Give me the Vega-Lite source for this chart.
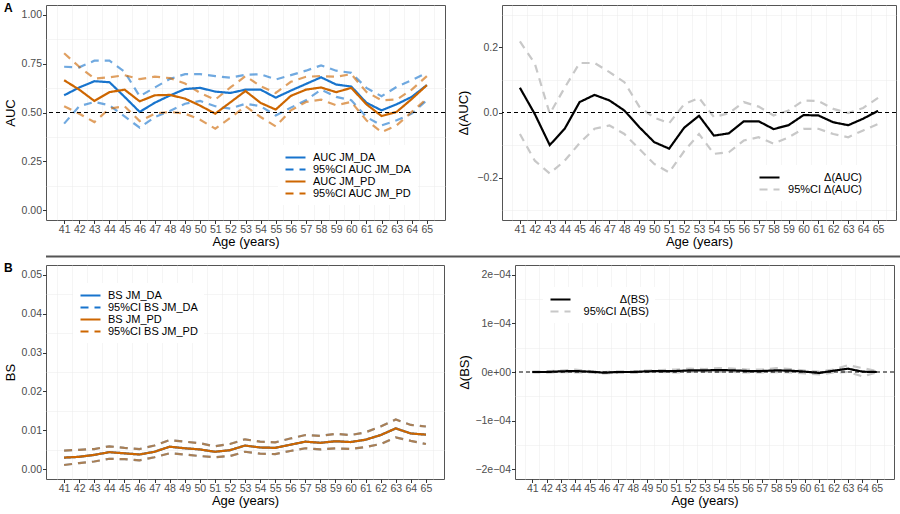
{
"$schema": "https://vega.github.io/schema/vega-lite/v6.json",
"padding": {"left": 4, "top": 1, "right": 0, "bottom": 0},
"config": {
  "font": "Liberation Sans",
  "view": {"stroke": "#555555", "strokeWidth": 1},
  "axis": {"labelFont": "Liberation Sans", "labelFontSize": 10.5, "labelColor": "#4D4D4D", "titleFont": "Liberation Sans", "titleFontSize": 13, "titleFontWeight": "normal", "titleColor": "#000000", "tickColor": "#333333", "tickSize": 3.5, "tickWidth": 1, "labelPadding": 1, "domain": false, "gridColor": "#EBEBEB", "gridWidth": 1},
  "axisX": {"titlePadding": 0},
  "axisY": {"titlePadding": 3.5},
  "legend": {"labelFont": "Liberation Sans", "labelFontSize": 11, "labelColor": "#000000", "fillColor": "white", "padding": 6, "rowPadding": 0, "symbolType": "M-1,0H3", "symbolSize": 100, "symbolStrokeWidth": 2.2, "symbolOpacity": 1, "labelOffset": 16, "orient": "none"}
},
"resolve": {"scale": {"color": "independent", "strokeDash": "independent"}, "legend": {"color": "independent", "strokeDash": "independent"}},
"datasets": {
"aucEst": [
{"age":41,"s":"AUC JM_DA","v":0.588},{"age":42,"s":"AUC JM_DA","v":0.628},{"age":43,"s":"AUC JM_DA","v":0.66},{"age":44,"s":"AUC JM_DA","v":0.655},{"age":45,"s":"AUC JM_DA","v":0.58},{"age":46,"s":"AUC JM_DA","v":0.503},{"age":47,"s":"AUC JM_DA","v":0.55},{"age":48,"s":"AUC JM_DA","v":0.587},{"age":49,"s":"AUC JM_DA","v":0.62},{"age":50,"s":"AUC JM_DA","v":0.626},{"age":51,"s":"AUC JM_DA","v":0.607},{"age":52,"s":"AUC JM_DA","v":0.6},{"age":53,"s":"AUC JM_DA","v":0.617},{"age":54,"s":"AUC JM_DA","v":0.617},{"age":55,"s":"AUC JM_DA","v":0.576},{"age":56,"s":"AUC JM_DA","v":0.612},{"age":57,"s":"AUC JM_DA","v":0.646},{"age":58,"s":"AUC JM_DA","v":0.68},{"age":59,"s":"AUC JM_DA","v":0.643},{"age":60,"s":"AUC JM_DA","v":0.633},{"age":61,"s":"AUC JM_DA","v":0.55},{"age":62,"s":"AUC JM_DA","v":0.511},{"age":63,"s":"AUC JM_DA","v":0.542},{"age":64,"s":"AUC JM_DA","v":0.58},{"age":65,"s":"AUC JM_DA","v":0.64},
{"age":41,"s":"AUC JM_PD","v":0.665},{"age":42,"s":"AUC JM_PD","v":0.617},{"age":43,"s":"AUC JM_PD","v":0.559},{"age":44,"s":"AUC JM_PD","v":0.604},{"age":45,"s":"AUC JM_PD","v":0.617},{"age":46,"s":"AUC JM_PD","v":0.557},{"age":47,"s":"AUC JM_PD","v":0.588},{"age":48,"s":"AUC JM_PD","v":0.59},{"age":49,"s":"AUC JM_PD","v":0.571},{"age":50,"s":"AUC JM_PD","v":0.535},{"age":51,"s":"AUC JM_PD","v":0.494},{"age":52,"s":"AUC JM_PD","v":0.552},{"age":53,"s":"AUC JM_PD","v":0.61},{"age":54,"s":"AUC JM_PD","v":0.549},{"age":55,"s":"AUC JM_PD","v":0.515},{"age":56,"s":"AUC JM_PD","v":0.585},{"age":57,"s":"AUC JM_PD","v":0.617},{"age":58,"s":"AUC JM_PD","v":0.628},{"age":59,"s":"AUC JM_PD","v":0.604},{"age":60,"s":"AUC JM_PD","v":0.626},{"age":61,"s":"AUC JM_PD","v":0.542},{"age":62,"s":"AUC JM_PD","v":0.482},{"age":63,"s":"AUC JM_PD","v":0.503},{"age":64,"s":"AUC JM_PD","v":0.569},{"age":65,"s":"AUC JM_PD","v":0.64}
],
"aucCI": [
{"age":41,"s":"95%CI AUC JM_DA","lo":0.443,"hi":0.734},{"age":42,"s":"95%CI AUC JM_DA","lo":0.532,"hi":0.731},{"age":43,"s":"95%CI AUC JM_DA","lo":0.554,"hi":0.765},{"age":44,"s":"95%CI AUC JM_DA","lo":0.537,"hi":0.765},{"age":45,"s":"95%CI AUC JM_DA","lo":0.48,"hi":0.708},{"age":46,"s":"95%CI AUC JM_DA","lo":0.422,"hi":0.583},{"age":47,"s":"95%CI AUC JM_DA","lo":0.477,"hi":0.628},{"age":48,"s":"95%CI AUC JM_DA","lo":0.508,"hi":0.672},{"age":49,"s":"95%CI AUC JM_DA","lo":0.545,"hi":0.696},{"age":50,"s":"95%CI AUC JM_DA","lo":0.559,"hi":0.696},{"age":51,"s":"95%CI AUC JM_DA","lo":0.532,"hi":0.686},{"age":52,"s":"95%CI AUC JM_DA","lo":0.52,"hi":0.678},{"age":53,"s":"95%CI AUC JM_DA","lo":0.545,"hi":0.693},{"age":54,"s":"95%CI AUC JM_DA","lo":0.532,"hi":0.696},{"age":55,"s":"95%CI AUC JM_DA","lo":0.485,"hi":0.669},{"age":56,"s":"95%CI AUC JM_DA","lo":0.525,"hi":0.691},{"age":57,"s":"95%CI AUC JM_DA","lo":0.563,"hi":0.714},{"age":58,"s":"95%CI AUC JM_DA","lo":0.617,"hi":0.741},{"age":59,"s":"95%CI AUC JM_DA","lo":0.58,"hi":0.714},{"age":60,"s":"95%CI AUC JM_DA","lo":0.563,"hi":0.703},{"age":61,"s":"95%CI AUC JM_DA","lo":0.477,"hi":0.626},{"age":62,"s":"95%CI AUC JM_DA","lo":0.434,"hi":0.583},{"age":63,"s":"95%CI AUC JM_DA","lo":0.46,"hi":0.631},{"age":64,"s":"95%CI AUC JM_DA","lo":0.494,"hi":0.665},{"age":65,"s":"95%CI AUC JM_DA","lo":0.563,"hi":0.703},
{"age":41,"s":"95%CI AUC JM_PD","lo":0.532,"hi":0.803},{"age":42,"s":"95%CI AUC JM_PD","lo":0.494,"hi":0.734},{"age":43,"s":"95%CI AUC JM_PD","lo":0.451,"hi":0.674},{"age":44,"s":"95%CI AUC JM_PD","lo":0.52,"hi":0.68},{"age":45,"s":"95%CI AUC JM_PD","lo":0.532,"hi":0.691},{"age":46,"s":"95%CI AUC JM_PD","lo":0.456,"hi":0.671},{"age":47,"s":"95%CI AUC JM_PD","lo":0.494,"hi":0.683},{"age":48,"s":"95%CI AUC JM_PD","lo":0.503,"hi":0.676},{"age":49,"s":"95%CI AUC JM_PD","lo":0.494,"hi":0.648},{"age":50,"s":"95%CI AUC JM_PD","lo":0.463,"hi":0.6},{"age":51,"s":"95%CI AUC JM_PD","lo":0.417,"hi":0.566},{"age":52,"s":"95%CI AUC JM_PD","lo":0.473,"hi":0.628},{"age":53,"s":"95%CI AUC JM_PD","lo":0.532,"hi":0.686},{"age":54,"s":"95%CI AUC JM_PD","lo":0.477,"hi":0.635},{"age":55,"s":"95%CI AUC JM_PD","lo":0.429,"hi":0.6},{"age":56,"s":"95%CI AUC JM_PD","lo":0.511,"hi":0.657},{"age":57,"s":"95%CI AUC JM_PD","lo":0.554,"hi":0.683},{"age":58,"s":"95%CI AUC JM_PD","lo":0.566,"hi":0.686},{"age":59,"s":"95%CI AUC JM_PD","lo":0.537,"hi":0.683},{"age":60,"s":"95%CI AUC JM_PD","lo":0.554,"hi":0.696},{"age":61,"s":"95%CI AUC JM_PD","lo":0.46,"hi":0.605},{"age":62,"s":"95%CI AUC JM_PD","lo":0.4,"hi":0.563},{"age":63,"s":"95%CI AUC JM_PD","lo":0.434,"hi":0.566},{"age":64,"s":"95%CI AUC JM_PD","lo":0.503,"hi":0.617},{"age":65,"s":"95%CI AUC JM_PD","lo":0.571,"hi":0.686}
],
"dAucEst": [
{"age":41,"s":"Δ(AUC)","v":0.076},{"age":42,"s":"Δ(AUC)","v":-0.005},{"age":43,"s":"Δ(AUC)","v":-0.1},{"age":44,"s":"Δ(AUC)","v":-0.05},{"age":45,"s":"Δ(AUC)","v":0.032},{"age":46,"s":"Δ(AUC)","v":0.054},{"age":47,"s":"Δ(AUC)","v":0.037},{"age":48,"s":"Δ(AUC)","v":0.006},{"age":49,"s":"Δ(AUC)","v":-0.045},{"age":50,"s":"Δ(AUC)","v":-0.091},{"age":51,"s":"Δ(AUC)","v":-0.111},{"age":52,"s":"Δ(AUC)","v":-0.047},{"age":53,"s":"Δ(AUC)","v":-0.01},{"age":54,"s":"Δ(AUC)","v":-0.071},{"age":55,"s":"Δ(AUC)","v":-0.064},{"age":56,"s":"Δ(AUC)","v":-0.027},{"age":57,"s":"Δ(AUC)","v":-0.027},{"age":58,"s":"Δ(AUC)","v":-0.051},{"age":59,"s":"Δ(AUC)","v":-0.039},{"age":60,"s":"Δ(AUC)","v":-0.008},{"age":61,"s":"Δ(AUC)","v":-0.009},{"age":62,"s":"Δ(AUC)","v":-0.03},{"age":63,"s":"Δ(AUC)","v":-0.039},{"age":64,"s":"Δ(AUC)","v":-0.019},{"age":65,"s":"Δ(AUC)","v":0.005}
],
"dAucCI": [
{"age":41,"s":"95%CI Δ(AUC)","lo":-0.066,"hi":0.218},{"age":42,"s":"95%CI Δ(AUC)","lo":-0.148,"hi":0.15},{"age":43,"s":"95%CI Δ(AUC)","lo":-0.187,"hi":-0.004},{"age":44,"s":"95%CI Δ(AUC)","lo":-0.148,"hi":0.076},{"age":45,"s":"95%CI Δ(AUC)","lo":-0.094,"hi":0.152},{"age":46,"s":"95%CI Δ(AUC)","lo":-0.05,"hi":0.152},{"age":47,"s":"95%CI Δ(AUC)","lo":-0.04,"hi":0.124},{"age":48,"s":"95%CI Δ(AUC)","lo":-0.066,"hi":0.093},{"age":49,"s":"95%CI Δ(AUC)","lo":-0.112,"hi":0.018},{"age":50,"s":"95%CI Δ(AUC)","lo":-0.158,"hi":-0.016},{"age":51,"s":"95%CI Δ(AUC)","lo":-0.184,"hi":-0.033},{"age":52,"s":"95%CI Δ(AUC)","lo":-0.119,"hi":0.025},{"age":53,"s":"95%CI Δ(AUC)","lo":-0.066,"hi":0.045},{"age":54,"s":"95%CI Δ(AUC)","lo":-0.127,"hi":-0.014},{"age":55,"s":"95%CI Δ(AUC)","lo":-0.122,"hi":-0.002},{"age":56,"s":"95%CI Δ(AUC)","lo":-0.086,"hi":0.032},{"age":57,"s":"95%CI Δ(AUC)","lo":-0.076,"hi":0.018},{"age":58,"s":"95%CI Δ(AUC)","lo":-0.096,"hi":-0.009},{"age":59,"s":"95%CI Δ(AUC)","lo":-0.076,"hi":0.006},{"age":60,"s":"95%CI Δ(AUC)","lo":-0.05,"hi":0.037},{"age":61,"s":"95%CI Δ(AUC)","lo":-0.05,"hi":0.035},{"age":62,"s":"95%CI Δ(AUC)","lo":-0.066,"hi":0.011},{"age":63,"s":"95%CI Δ(AUC)","lo":-0.076,"hi":-0.002},{"age":64,"s":"95%CI Δ(AUC)","lo":-0.055,"hi":0.014},{"age":65,"s":"95%CI Δ(AUC)","lo":-0.035,"hi":0.045}
],
"bsEst": [
{"age":41,"s":"BS JM_DA","v":0.003},{"age":42,"s":"BS JM_DA","v":0.0032},{"age":43,"s":"BS JM_DA","v":0.0037},{"age":44,"s":"BS JM_DA","v":0.0044},{"age":45,"s":"BS JM_DA","v":0.0041},{"age":46,"s":"BS JM_DA","v":0.0038},{"age":47,"s":"BS JM_DA","v":0.0045},{"age":48,"s":"BS JM_DA","v":0.0058},{"age":49,"s":"BS JM_DA","v":0.0054},{"age":50,"s":"BS JM_DA","v":0.0051},{"age":51,"s":"BS JM_DA","v":0.0045},{"age":52,"s":"BS JM_DA","v":0.0049},{"age":53,"s":"BS JM_DA","v":0.0061},{"age":54,"s":"BS JM_DA","v":0.0056},{"age":55,"s":"BS JM_DA","v":0.0055},{"age":56,"s":"BS JM_DA","v":0.0063},{"age":57,"s":"BS JM_DA","v":0.0071},{"age":58,"s":"BS JM_DA","v":0.0068},{"age":59,"s":"BS JM_DA","v":0.0072},{"age":60,"s":"BS JM_DA","v":0.007},{"age":61,"s":"BS JM_DA","v":0.0076},{"age":62,"s":"BS JM_DA","v":0.0088},{"age":63,"s":"BS JM_DA","v":0.0105},{"age":64,"s":"BS JM_DA","v":0.0092},{"age":65,"s":"BS JM_DA","v":0.0089},
{"age":41,"s":"BS JM_PD","v":0.003},{"age":42,"s":"BS JM_PD","v":0.0032},{"age":43,"s":"BS JM_PD","v":0.0037},{"age":44,"s":"BS JM_PD","v":0.0044},{"age":45,"s":"BS JM_PD","v":0.0041},{"age":46,"s":"BS JM_PD","v":0.0038},{"age":47,"s":"BS JM_PD","v":0.0045},{"age":48,"s":"BS JM_PD","v":0.0058},{"age":49,"s":"BS JM_PD","v":0.0054},{"age":50,"s":"BS JM_PD","v":0.0051},{"age":51,"s":"BS JM_PD","v":0.0045},{"age":52,"s":"BS JM_PD","v":0.0049},{"age":53,"s":"BS JM_PD","v":0.0061},{"age":54,"s":"BS JM_PD","v":0.0056},{"age":55,"s":"BS JM_PD","v":0.0055},{"age":56,"s":"BS JM_PD","v":0.0063},{"age":57,"s":"BS JM_PD","v":0.0071},{"age":58,"s":"BS JM_PD","v":0.0068},{"age":59,"s":"BS JM_PD","v":0.0072},{"age":60,"s":"BS JM_PD","v":0.007},{"age":61,"s":"BS JM_PD","v":0.0076},{"age":62,"s":"BS JM_PD","v":0.0088},{"age":63,"s":"BS JM_PD","v":0.0105},{"age":64,"s":"BS JM_PD","v":0.0092},{"age":65,"s":"BS JM_PD","v":0.0089}
],
"bsCI": [
{"age":41,"s":"95%CI BS JM_DA","lo":0.0011,"hi":0.0048},{"age":42,"s":"95%CI BS JM_DA","lo":0.0016,"hi":0.005},{"age":43,"s":"95%CI BS JM_DA","lo":0.002,"hi":0.0052},{"age":44,"s":"95%CI BS JM_DA","lo":0.0027,"hi":0.0059},{"age":45,"s":"95%CI BS JM_DA","lo":0.0026,"hi":0.0055},{"age":46,"s":"95%CI BS JM_DA","lo":0.0023,"hi":0.0052},{"age":47,"s":"95%CI BS JM_DA","lo":0.0031,"hi":0.0061},{"age":48,"s":"95%CI BS JM_DA","lo":0.0041,"hi":0.0075},{"age":49,"s":"95%CI BS JM_DA","lo":0.0038,"hi":0.0071},{"age":50,"s":"95%CI BS JM_DA","lo":0.0034,"hi":0.0067},{"age":51,"s":"95%CI BS JM_DA","lo":0.0031,"hi":0.0059},{"age":52,"s":"95%CI BS JM_DA","lo":0.0034,"hi":0.0065},{"age":53,"s":"95%CI BS JM_DA","lo":0.0045,"hi":0.0077},{"age":54,"s":"95%CI BS JM_DA","lo":0.004,"hi":0.0071},{"age":55,"s":"95%CI BS JM_DA","lo":0.0039,"hi":0.0069},{"age":56,"s":"95%CI BS JM_DA","lo":0.0047,"hi":0.0079},{"age":57,"s":"95%CI BS JM_DA","lo":0.0054,"hi":0.0088},{"age":58,"s":"95%CI BS JM_DA","lo":0.0051,"hi":0.0086},{"age":59,"s":"95%CI BS JM_DA","lo":0.0054,"hi":0.0091},{"age":60,"s":"95%CI BS JM_DA","lo":0.0052,"hi":0.0088},{"age":61,"s":"95%CI BS JM_DA","lo":0.0057,"hi":0.0095},{"age":62,"s":"95%CI BS JM_DA","lo":0.0065,"hi":0.011},{"age":63,"s":"95%CI BS JM_DA","lo":0.0082,"hi":0.0128},{"age":64,"s":"95%CI BS JM_DA","lo":0.0073,"hi":0.0114},{"age":65,"s":"95%CI BS JM_DA","lo":0.0065,"hi":0.011},
{"age":41,"s":"95%CI BS JM_PD","lo":0.0011,"hi":0.0048},{"age":42,"s":"95%CI BS JM_PD","lo":0.0016,"hi":0.005},{"age":43,"s":"95%CI BS JM_PD","lo":0.002,"hi":0.0052},{"age":44,"s":"95%CI BS JM_PD","lo":0.0027,"hi":0.0059},{"age":45,"s":"95%CI BS JM_PD","lo":0.0026,"hi":0.0055},{"age":46,"s":"95%CI BS JM_PD","lo":0.0023,"hi":0.0052},{"age":47,"s":"95%CI BS JM_PD","lo":0.0031,"hi":0.0061},{"age":48,"s":"95%CI BS JM_PD","lo":0.0041,"hi":0.0075},{"age":49,"s":"95%CI BS JM_PD","lo":0.0038,"hi":0.0071},{"age":50,"s":"95%CI BS JM_PD","lo":0.0034,"hi":0.0067},{"age":51,"s":"95%CI BS JM_PD","lo":0.0031,"hi":0.0059},{"age":52,"s":"95%CI BS JM_PD","lo":0.0034,"hi":0.0065},{"age":53,"s":"95%CI BS JM_PD","lo":0.0045,"hi":0.0077},{"age":54,"s":"95%CI BS JM_PD","lo":0.004,"hi":0.0071},{"age":55,"s":"95%CI BS JM_PD","lo":0.0039,"hi":0.0069},{"age":56,"s":"95%CI BS JM_PD","lo":0.0047,"hi":0.0079},{"age":57,"s":"95%CI BS JM_PD","lo":0.0054,"hi":0.0088},{"age":58,"s":"95%CI BS JM_PD","lo":0.0051,"hi":0.0086},{"age":59,"s":"95%CI BS JM_PD","lo":0.0054,"hi":0.0091},{"age":60,"s":"95%CI BS JM_PD","lo":0.0052,"hi":0.0088},{"age":61,"s":"95%CI BS JM_PD","lo":0.0057,"hi":0.0095},{"age":62,"s":"95%CI BS JM_PD","lo":0.0065,"hi":0.011},{"age":63,"s":"95%CI BS JM_PD","lo":0.0082,"hi":0.0128},{"age":64,"s":"95%CI BS JM_PD","lo":0.0073,"hi":0.0114},{"age":65,"s":"95%CI BS JM_PD","lo":0.0065,"hi":0.011}
],
"dBsEst": [
{"age":41,"s":"Δ(BS)","v":0},{"age":42,"s":"Δ(BS)","v":0},{"age":43,"s":"Δ(BS)","v":1.4e-6},{"age":44,"s":"Δ(BS)","v":2e-6},{"age":45,"s":"Δ(BS)","v":0.7e-6},{"age":46,"s":"Δ(BS)","v":-1.4e-6},{"age":47,"s":"Δ(BS)","v":0},{"age":48,"s":"Δ(BS)","v":0},{"age":49,"s":"Δ(BS)","v":1.4e-6},{"age":50,"s":"Δ(BS)","v":2e-6},{"age":51,"s":"Δ(BS)","v":2e-6},{"age":52,"s":"Δ(BS)","v":3.4e-6},{"age":53,"s":"Δ(BS)","v":3.4e-6},{"age":54,"s":"Δ(BS)","v":4e-6},{"age":55,"s":"Δ(BS)","v":3.4e-6},{"age":56,"s":"Δ(BS)","v":2e-6},{"age":57,"s":"Δ(BS)","v":2e-6},{"age":58,"s":"Δ(BS)","v":3.4e-6},{"age":59,"s":"Δ(BS)","v":2.7e-6},{"age":60,"s":"Δ(BS)","v":0.7e-6},{"age":61,"s":"Δ(BS)","v":-2e-6},{"age":62,"s":"Δ(BS)","v":2.7e-6},{"age":63,"s":"Δ(BS)","v":6.8e-6},{"age":64,"s":"Δ(BS)","v":0.7e-6},{"age":65,"s":"Δ(BS)","v":0}
],
"dBsCI": [
{"age":41,"s":"95%CI Δ(BS)","lo":-1e-6,"hi":1e-6},{"age":42,"s":"95%CI Δ(BS)","lo":-1.5e-6,"hi":1.5e-6},{"age":43,"s":"95%CI Δ(BS)","lo":0,"hi":3e-6},{"age":44,"s":"95%CI Δ(BS)","lo":-1e-6,"hi":5e-6},{"age":45,"s":"95%CI Δ(BS)","lo":-1e-6,"hi":2e-6},{"age":46,"s":"95%CI Δ(BS)","lo":-3e-6,"hi":0},{"age":47,"s":"95%CI Δ(BS)","lo":-1.5e-6,"hi":1.5e-6},{"age":48,"s":"95%CI Δ(BS)","lo":-2e-6,"hi":1.5e-6},{"age":49,"s":"95%CI Δ(BS)","lo":0,"hi":3e-6},{"age":50,"s":"95%CI Δ(BS)","lo":0,"hi":4e-6},{"age":51,"s":"95%CI Δ(BS)","lo":-1e-6,"hi":5e-6},{"age":52,"s":"95%CI Δ(BS)","lo":0,"hi":7e-6},{"age":53,"s":"95%CI Δ(BS)","lo":1e-6,"hi":6e-6},{"age":54,"s":"95%CI Δ(BS)","lo":0,"hi":8e-6},{"age":55,"s":"95%CI Δ(BS)","lo":0,"hi":7e-6},{"age":56,"s":"95%CI Δ(BS)","lo":-1e-6,"hi":5e-6},{"age":57,"s":"95%CI Δ(BS)","lo":-1e-6,"hi":5e-6},{"age":58,"s":"95%CI Δ(BS)","lo":0,"hi":8e-6},{"age":59,"s":"95%CI Δ(BS)","lo":-1e-6,"hi":6e-6},{"age":60,"s":"95%CI Δ(BS)","lo":-3e-6,"hi":3e-6},{"age":61,"s":"95%CI Δ(BS)","lo":-5e-6,"hi":1e-6},{"age":62,"s":"95%CI Δ(BS)","lo":-1e-6,"hi":5e-6},{"age":63,"s":"95%CI Δ(BS)","lo":0,"hi":1.4e-5},{"age":64,"s":"95%CI Δ(BS)","lo":-9e-6,"hi":8e-6},{"age":65,"s":"95%CI Δ(BS)","lo":-1e-6,"hi":2e-6}
]
},
"vconcat": [
{
 "title": {"text": "A", "anchor": "start", "fontSize": 12, "fontWeight": "bold", "font": "Liberation Sans", "offset": -10},
 "spacing": 11,
 "resolve": {"scale": {"color": "independent", "strokeDash": "independent"}, "legend": {"color": "independent", "strokeDash": "independent"}},
 "hconcat": [
  {
   "width": 399, "height": 215,
   "layer": [
    {"data": {"name": "aucCI"}, "transform": [{"fold": ["lo", "hi"], "as": ["b", "v"]}],
     "mark": {"type": "line", "strokeWidth": 2.2, "opacity": 0.62},
     "encoding": {
      "x": {"field": "age", "type": "quantitative", "scale": {"domain": [39.8, 66.2], "nice": false, "zero": false}, "axis": {"orient": "bottom", "values": [40.5,41.5,42.5,43.5,44.5,45.5,46.5,47.5,48.5,49.5,50.5,51.5,52.5,53.5,54.5,55.5,56.5,57.5,58.5,59.5,60.5,61.5,62.5,63.5,64.5,65.5], "labels": false, "ticks": false, "title": null, "gridWidth": 0.5}},
      "y": {"field": "v", "type": "quantitative", "scale": {"domain": [-0.05, 1.05], "nice": false, "zero": false}, "axis": {"orient": "left", "values": [0.125, 0.375, 0.625, 0.875], "labels": false, "ticks": false, "title": null, "gridWidth": 0.5}},
      "color": {"field": "s", "type": "nominal", "scale": {"domain": ["AUC JM_DA", "95%CI AUC JM_DA", "AUC JM_PD", "95%CI AUC JM_PD"], "range": ["#1874CD", "#1874CD", "#CD6600", "#CD6600"]}, "legend": {"title": null, "legendX": 232, "legendY": 140}},
      "strokeDash": {"field": "s", "type": "nominal", "scale": {"domain": ["AUC JM_DA", "95%CI AUC JM_DA", "AUC JM_PD", "95%CI AUC JM_PD"], "range": [[1, 0], [8, 6], [1, 0], [8, 6]]}, "legend": {"title": null, "legendX": 232, "legendY": 140}},
      "detail": {"field": "b", "type": "nominal"}
     }},
    {"data": {"name": "aucEst"},
     "mark": {"type": "line", "strokeWidth": 2.2},
     "encoding": {
      "x": {"field": "age", "type": "quantitative", "axis": {"orient": "bottom", "values": [41,42,43,44,45,46,47,48,49,50,51,52,53,54,55,56,57,58,59,60,61,62,63,64,65], "format": "d", "labelOverlap": false, "labelFlush": false, "title": "Age (years)"}},
      "y": {"field": "v", "type": "quantitative", "axis": {"orient": "left", "values": [0, 0.25, 0.5, 0.75, 1], "format": ".2f", "title": "AUC"}},
      "color": {"field": "s", "type": "nominal"},
      "strokeDash": {"field": "s", "type": "nominal"}
     }},
    {"data": {"values": [{}]},
     "mark": {"type": "rule", "color": "black", "strokeDash": [4, 3], "strokeWidth": 1},
     "encoding": {"y": {"datum": 0.5, "type": "quantitative", "axis": null}}}
   ],
   "resolve": {"axis": {"x": "independent", "y": "independent"}}
  },
  {
   "width": 394, "height": 215,
   "layer": [
    {"data": {"name": "dAucCI"}, "transform": [{"fold": ["lo", "hi"], "as": ["b", "v"]}],
     "mark": {"type": "line", "strokeWidth": 2.2},
     "encoding": {
      "x": {"field": "age", "type": "quantitative", "scale": {"domain": [39.8, 66.2], "nice": false, "zero": false}, "axis": {"orient": "bottom", "values": [40.5,41.5,42.5,43.5,44.5,45.5,46.5,47.5,48.5,49.5,50.5,51.5,52.5,53.5,54.5,55.5,56.5,57.5,58.5,59.5,60.5,61.5,62.5,63.5,64.5,65.5], "labels": false, "ticks": false, "title": null, "gridWidth": 0.5}},
      "y": {"field": "v", "type": "quantitative", "scale": {"domain": [-0.33, 0.33], "nice": false, "zero": false}, "axis": {"orient": "left", "values": [-0.3, -0.1, 0.1, 0.3], "labels": false, "ticks": false, "title": null, "gridWidth": 0.5}},
      "color": {"field": "s", "type": "nominal", "scale": {"domain": ["Δ(AUC)", "95%CI Δ(AUC)"], "range": ["#000000", "#C8C8C8"]}, "legend": {"title": null, "legendX": 250, "legendY": 160, "labelAlign": "right", "labelOffset": 91}},
      "strokeDash": {"field": "s", "type": "nominal", "scale": {"domain": ["Δ(AUC)", "95%CI Δ(AUC)"], "range": [[1, 0], [8, 6]]}, "legend": {"title": null, "legendX": 250, "legendY": 160, "labelAlign": "right", "labelOffset": 91}},
      "detail": {"field": "b", "type": "nominal"}
     }},
    {"data": {"name": "dAucEst"},
     "mark": {"type": "line", "strokeWidth": 2.2},
     "encoding": {
      "x": {"field": "age", "type": "quantitative", "axis": {"orient": "bottom", "values": [41,42,43,44,45,46,47,48,49,50,51,52,53,54,55,56,57,58,59,60,61,62,63,64,65], "format": "d", "labelOverlap": false, "labelFlush": false, "title": "Age (years)"}},
      "y": {"field": "v", "type": "quantitative", "axis": {"orient": "left", "values": [-0.2, 0, 0.2], "format": ".1f", "title": "Δ(AUC)", "titlePadding": 6}},
      "color": {"field": "s", "type": "nominal"},
      "strokeDash": {"field": "s", "type": "nominal"}
     }},
    {"data": {"values": [{}]},
     "mark": {"type": "rule", "color": "black", "strokeDash": [4, 3], "strokeWidth": 1},
     "encoding": {"y": {"datum": 0, "type": "quantitative", "axis": null}}}
   ],
   "resolve": {"axis": {"x": "independent", "y": "independent"}}
  }
 ]
},
{
 "width": 896, "height": 6,
 "view": {"stroke": null},
 "data": {"values": [{}]},
 "mark": {"type": "rule", "color": "#555555", "strokeWidth": 2},
 "encoding": {"y": {"datum": 0.25, "type": "quantitative", "scale": {"domain": [0, 1]}, "axis": null}}
},
{
 "title": {"text": "B", "anchor": "start", "fontSize": 12, "fontWeight": "bold", "font": "Liberation Sans", "offset": -10},
 "spacing": 12,
 "resolve": {"scale": {"color": "independent", "strokeDash": "independent"}, "legend": {"color": "independent", "strokeDash": "independent"}},
 "hconcat": [
  {
   "width": 398, "height": 214,
   "layer": [
    {"data": {"name": "bsCI"}, "transform": [{"fold": ["lo", "hi"], "as": ["b", "v"]}],
     "mark": {"type": "line", "strokeWidth": 2.2, "opacity": 0.62},
     "encoding": {
      "x": {"field": "age", "type": "quantitative", "scale": {"domain": [39.8, 66.2], "nice": false, "zero": false}, "axis": {"orient": "bottom", "values": [40.5,41.5,42.5,43.5,44.5,45.5,46.5,47.5,48.5,49.5,50.5,51.5,52.5,53.5,54.5,55.5,56.5,57.5,58.5,59.5,60.5,61.5,62.5,63.5,64.5,65.5], "labels": false, "ticks": false, "title": null, "gridWidth": 0.5}},
      "y": {"field": "v", "type": "quantitative", "scale": {"domain": [-0.0025, 0.0525], "nice": false, "zero": false}, "axis": {"orient": "left", "values": [0.005, 0.015, 0.025, 0.035, 0.045], "labels": false, "ticks": false, "title": null, "gridWidth": 0.5}},
      "color": {"field": "s", "type": "nominal", "scale": {"domain": ["BS JM_DA", "95%CI BS JM_DA", "BS JM_PD", "95%CI BS JM_PD"], "range": ["#1874CD", "#1874CD", "#CD6600", "#CD6600"]}, "legend": {"title": null, "legendX": 27, "legendY": 18}},
      "strokeDash": {"field": "s", "type": "nominal", "scale": {"domain": ["BS JM_DA", "95%CI BS JM_DA", "BS JM_PD", "95%CI BS JM_PD"], "range": [[1, 0], [8, 6], [1, 0], [8, 6]]}, "legend": {"title": null, "legendX": 27, "legendY": 18}},
      "detail": {"field": "b", "type": "nominal"}
     }},
    {"data": {"name": "bsEst"},
     "mark": {"type": "line", "strokeWidth": 2.2},
     "encoding": {
      "x": {"field": "age", "type": "quantitative", "axis": {"orient": "bottom", "values": [41,42,43,44,45,46,47,48,49,50,51,52,53,54,55,56,57,58,59,60,61,62,63,64,65], "format": "d", "labelOverlap": false, "labelFlush": false, "title": "Age (years)"}},
      "y": {"field": "v", "type": "quantitative", "axis": {"orient": "left", "values": [0, 0.01, 0.02, 0.03, 0.04, 0.05], "format": ".2f", "title": "BS"}},
      "color": {"field": "s", "type": "nominal"},
      "strokeDash": {"field": "s", "type": "nominal"}
     }}
   ],
   "resolve": {"axis": {"x": "independent", "y": "independent"}}
  },
  {
   "width": 379, "height": 214,
   "layer": [
    {"data": {"name": "dBsCI"}, "transform": [{"fold": ["lo", "hi"], "as": ["b", "v"]}],
     "mark": {"type": "line", "strokeWidth": 2.2},
     "encoding": {
      "x": {"field": "age", "type": "quantitative", "scale": {"domain": [39.8, 66.2], "nice": false, "zero": false}, "axis": {"orient": "bottom", "values": [40.5,41.5,42.5,43.5,44.5,45.5,46.5,47.5,48.5,49.5,50.5,51.5,52.5,53.5,54.5,55.5,56.5,57.5,58.5,59.5,60.5,61.5,62.5,63.5,64.5,65.5], "labels": false, "ticks": false, "title": null, "gridWidth": 0.5}},
      "y": {"field": "v", "type": "quantitative", "scale": {"domain": [-0.00022, 0.00022], "nice": false, "zero": false}, "axis": {"orient": "left", "values": [-0.00015, -0.00005, 0.00005, 0.00015], "labels": false, "ticks": false, "title": null, "gridWidth": 0.5}},
      "color": {"field": "s", "type": "nominal", "scale": {"domain": ["Δ(BS)", "95%CI Δ(BS)"], "range": ["#000000", "#C8C8C8"]}, "legend": {"title": null, "legendX": 28, "legendY": 22, "labelAlign": "right", "labelOffset": 87}},
      "strokeDash": {"field": "s", "type": "nominal", "scale": {"domain": ["Δ(BS)", "95%CI Δ(BS)"], "range": [[1, 0], [8, 6]]}, "legend": {"title": null, "legendX": 28, "legendY": 22, "labelAlign": "right", "labelOffset": 87}},
      "detail": {"field": "b", "type": "nominal"}
     }},
    {"data": {"name": "dBsEst"},
     "mark": {"type": "line", "strokeWidth": 2.2},
     "encoding": {
      "x": {"field": "age", "type": "quantitative", "axis": {"orient": "bottom", "values": [41,42,43,44,45,46,47,48,49,50,51,52,53,54,55,56,57,58,59,60,61,62,63,64,65], "format": "d", "labelOverlap": false, "labelFlush": false, "title": "Age (years)"}},
      "y": {"field": "v", "type": "quantitative", "axis": {"orient": "left", "values": [-0.0002, -0.0001, 0, 0.0001, 0.0002], "labelExpr": "datum.value > 0.00015 ? '2e−04' : datum.value > 0.00005 ? '1e−04' : datum.value > -0.00005 ? '0e+00' : datum.value > -0.00015 ? '−1e−04' : '−2e−04'", "title": "Δ(BS)"}},
      "color": {"field": "s", "type": "nominal"},
      "strokeDash": {"field": "s", "type": "nominal"}
     }},
    {"data": {"values": [{}]},
     "mark": {"type": "rule", "color": "black", "strokeDash": [4, 3], "strokeWidth": 1},
     "encoding": {"y": {"datum": 0, "type": "quantitative", "axis": null}}}
   ],
   "resolve": {"axis": {"x": "independent", "y": "independent"}}
  }
 ]
}
],
"spacing": 3
}
